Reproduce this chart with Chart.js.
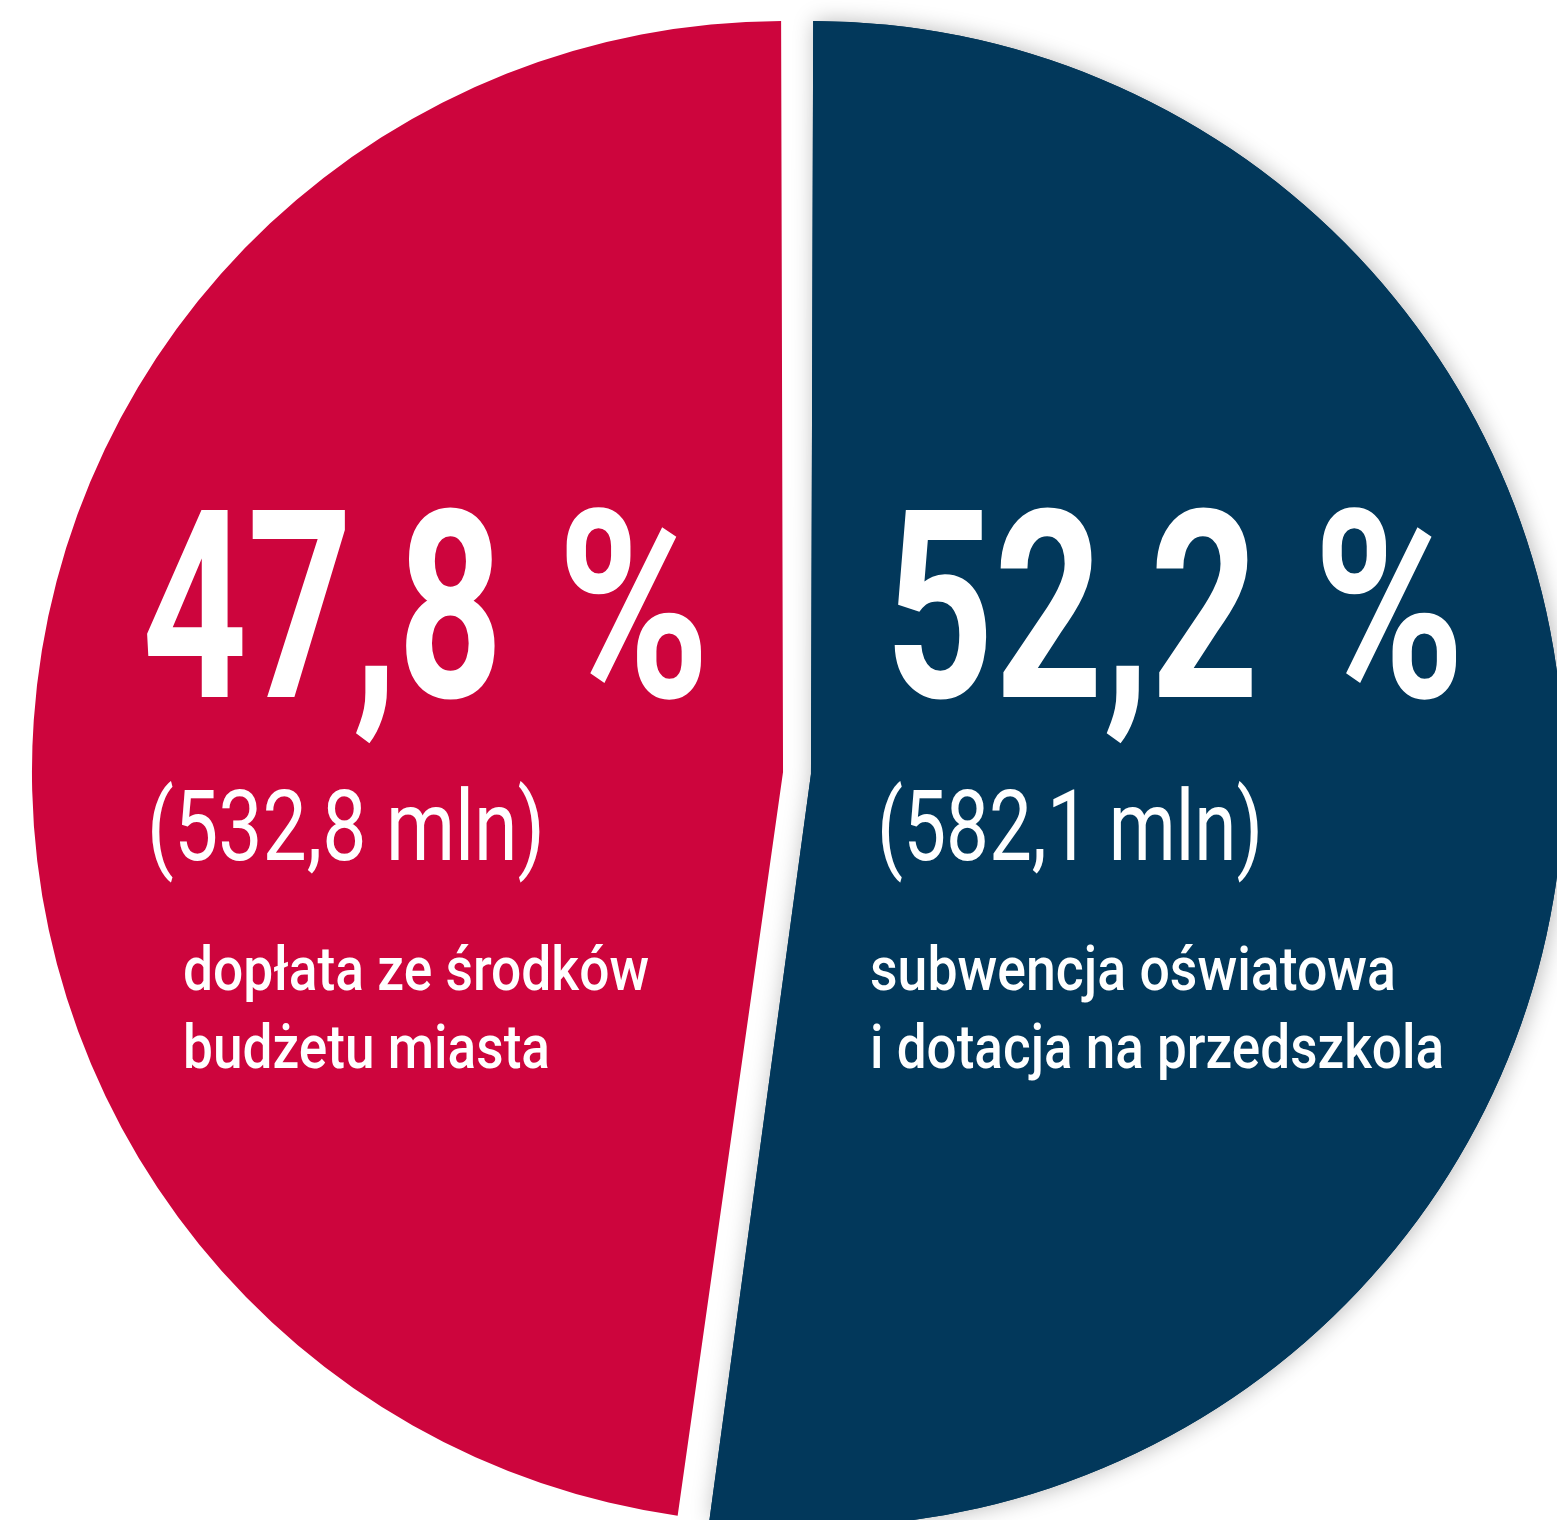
<!DOCTYPE html>
<html>
<head>
<meta charset="utf-8">
<script src="https://cdn.jsdelivr.net/npm/chart.js@4"></script>
<style>
  html, body { margin: 0; padding: 0; background: #fff; }
  canvas { display: block; }
</style>
</head>
<body>
<canvas id="chart" width="1557" height="1520"></canvas>
<script>
// values
const labels = ['subwencja oświatowa i dotacja na przedszkola', 'dopłata ze środków budżetu miasta'];
const shares = [52.2, 47.8];          // percent
const amounts = [582.1, 532.8];       // mln zł
const descriptions = [
  ['subwencja oświatowa', 'i dotacja na przedszkola'],
  ['dopłata ze środków', 'budżetu miasta'],
];
const colors = ['#02385b', '#cd053d'];

function fmt(v) {
  return v.toFixed(1).replace('.', ',');
}

// draw text squeezed to a given width (the original uses a condensed face)
function drawFit(ctx, text, x, y, width, size, weight) {
  ctx.font = weight + ' ' + size + 'px Roboto, "DejaVu Sans", sans-serif';
  const w = ctx.measureText(text).width;
  ctx.save();
  ctx.translate(x, y);
  ctx.scale(width / w, 1);
  ctx.fillText(text, 0, 0);
  ctx.restore();
}

// soft glow only around the blue slice
const glow = {
  id: 'glow',
  beforeDatasetsDraw(chart) {
    const ctx = chart.ctx;
    const arc = chart.getDatasetMeta(0).data[0];
    ctx.save();
    ctx.shadowColor = 'rgba(0,0,0,0.28)';
    ctx.shadowBlur = 22;
    ctx.shadowOffsetX = 2;
    ctx.shadowOffsetY = 0;
    arc.draw(ctx);
    ctx.restore();
  }
};

const sliceText = {
  id: 'sliceText',
  afterDatasetsDraw(chart) {
    const ctx = chart.ctx;
    const arc = chart.getDatasetMeta(0).data[0];
    const cx = arc.x, cy = arc.y;
    ctx.save();
    ctx.fillStyle = '#ffffff';
    ctx.textBaseline = 'alphabetic';
    ctx.textAlign = 'left';

    // right slice (blue)
    drawFit(ctx, fmt(shares[0]), cx + 88, cy - 76, 374, 263, 'bold');
    drawFit(ctx, '%', cx + 516, cy - 76, 152, 263, 'bold');
    drawFit(ctx, '(' + fmt(amounts[0]) + ' mln)', cx + 80, cy + 87, 386, 98, 'normal');
    drawFit(ctx, descriptions[0][0], cx + 73, cy + 217, 526, 62, '500');
    drawFit(ctx, descriptions[0][1], cx + 73, cy + 295, 574, 62, '500');

    // left slice (red)
    drawFit(ctx, fmt(shares[1]), cx - 655, cy - 76, 361, 263, 'bold');
    drawFit(ctx, '%', cx - 240, cy - 76, 153, 263, 'bold');
    drawFit(ctx, '(' + fmt(amounts[1]) + ' mln)', cx - 650, cy + 87, 398, 98, 'normal');
    drawFit(ctx, descriptions[1][0], cx - 614, cy + 217, 466, 62, '500');
    drawFit(ctx, descriptions[1][1], cx - 614, cy + 295, 367, 62, '500');
    ctx.restore();
  }
};

const config = {
  type: 'pie',
  data: {
    labels: labels,
    datasets: [
      {
        data: shares,
        backgroundColor: colors,
        borderWidth: 0,
        offset: 56,
        hoverOffset: 0,
        clip: false,
      },
    ],
  },
  options: {
    responsive: false,
    animation: false,
    radius: 739,
    layout: { padding: { left: 37, top: 26, right: 0, bottom: 0 } },
    plugins: {
      legend: { display: false },
      tooltip: { enabled: false },
    },
  },
  plugins: [glow, sliceText],
};

const myChart = new Chart(document.getElementById('chart'), config);
</script>
</body>
</html>
